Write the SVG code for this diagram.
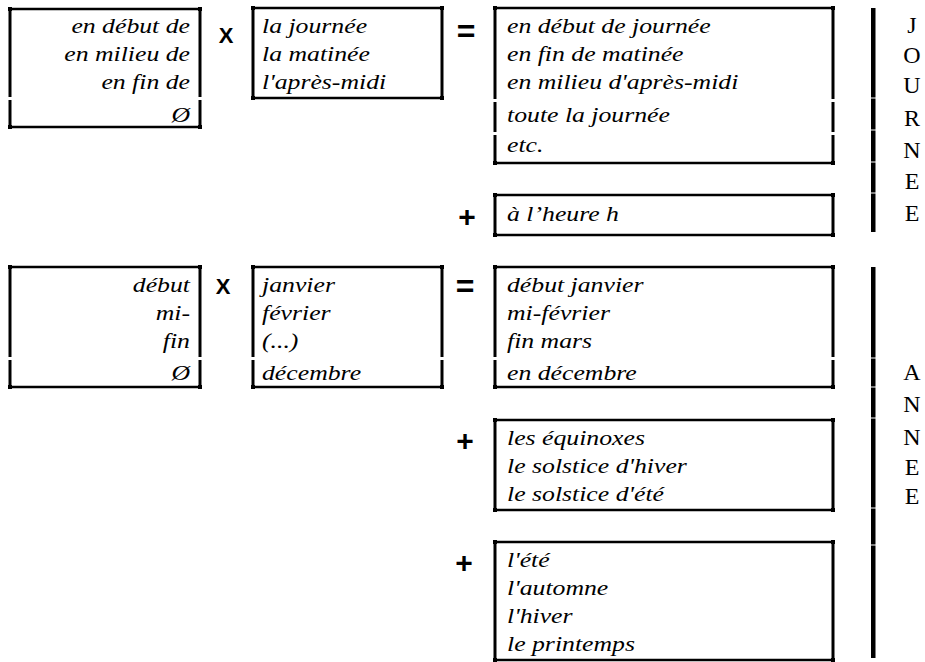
<svg xmlns="http://www.w3.org/2000/svg" width="925" height="662" viewBox="0 0 925 662">
<style>
.t{font-family:"Liberation Serif","Times New Roman",serif;font-style:italic;font-size:22px;fill:#000}
.r{text-anchor:end}
.op{font-family:"Liberation Sans",Arial,sans-serif;font-weight:bold;fill:#000;text-anchor:middle}
.v{stroke:#000;stroke-width:3}
.h{stroke:#000;stroke-width:2.5}
.bar{fill:#000}
.L{font-family:"Liberation Serif","Times New Roman",serif;font-size:24px;fill:#000;text-anchor:middle}
</style>
<defs>
<rect id="dot" x="-2" y="-2" width="4" height="4" fill="#000"/>
</defs>
<g id="box1">
<line class="h" x1="10" y1="9" x2="200" y2="9"/><line class="h" x1="10" y1="127" x2="200" y2="127"/>
<line class="v" x1="10" y1="11" x2="10" y2="97"/><line class="v" x1="10" y1="100" x2="10" y2="125"/>
<line class="v" x1="200" y1="11" x2="200" y2="97"/><line class="v" x1="200" y1="100" x2="200" y2="125"/>
<use href="#dot" x="10" y="9"/><use href="#dot" x="200" y="9"/><use href="#dot" x="10" y="127"/><use href="#dot" x="200" y="127"/>
<text class="t r" transform="translate(190,33) scale(1.17,1)">en début de</text>
<text class="t r" transform="translate(190,61) scale(1.17,1)">en milieu de</text>
<text class="t r" transform="translate(190,89) scale(1.17,1)">en fin de</text>
<text class="t r" transform="translate(190,122) scale(1.17,1)">Ø</text>
</g>
<g id="box2">
<line class="h" x1="253" y1="8" x2="442" y2="8"/><line class="h" x1="253" y1="98" x2="442" y2="98"/>
<line class="v" x1="253" y1="10" x2="253" y2="96"/><line class="v" x1="442" y1="10" x2="442" y2="96"/>
<use href="#dot" x="253" y="8"/><use href="#dot" x="442" y="8"/><use href="#dot" x="253" y="98"/><use href="#dot" x="442" y="98"/>
<text class="t" transform="translate(262,33) scale(1.17,1)">la journée</text>
<text class="t" transform="translate(262,61) scale(1.17,1)">la matinée</text>
<text class="t" transform="translate(262,89) scale(1.17,1)">l'après-midi</text>
</g>
<g id="box3">
<line class="h" x1="495" y1="8" x2="833" y2="8"/><line class="h" x1="495" y1="163" x2="833" y2="163"/>
<line class="v" x1="495" y1="10" x2="495" y2="99"/><line class="v" x1="495" y1="102" x2="495" y2="132"/><line class="v" x1="495" y1="135" x2="495" y2="161"/>
<line class="v" x1="833" y1="10" x2="833" y2="99"/><line class="v" x1="833" y1="102" x2="833" y2="132"/><line class="v" x1="833" y1="135" x2="833" y2="161"/>
<use href="#dot" x="495" y="8"/><use href="#dot" x="833" y="8"/><use href="#dot" x="495" y="163"/><use href="#dot" x="833" y="163"/>
<text class="t" transform="translate(507,33) scale(1.17,1)">en début de journée</text>
<text class="t" transform="translate(507,61) scale(1.17,1)">en fin de matinée</text>
<text class="t" transform="translate(507,89) scale(1.17,1)">en milieu d'après-midi</text>
<text class="t" transform="translate(507,122) scale(1.17,1)">toute la journée</text>
<text class="t" transform="translate(507,152) scale(1.17,1)">etc.</text>
</g>
<g id="box4">
<line class="h" x1="495" y1="195" x2="833" y2="195"/><line class="h" x1="495" y1="235" x2="833" y2="235"/>
<line class="v" x1="495" y1="197" x2="495" y2="233"/><line class="v" x1="833" y1="197" x2="833" y2="233"/>
<use href="#dot" x="495" y="195"/><use href="#dot" x="833" y="195"/><use href="#dot" x="495" y="235"/><use href="#dot" x="833" y="235"/>
<text class="t" transform="translate(507,221) scale(1.17,1)">à l’heure h</text>
</g>
<g id="box5">
<line class="h" x1="10" y1="267" x2="200" y2="267"/><line class="h" x1="10" y1="387" x2="200" y2="387"/>
<line class="v" x1="10" y1="269" x2="10" y2="357"/><line class="v" x1="10" y1="360" x2="10" y2="385"/>
<line class="v" x1="200" y1="269" x2="200" y2="357"/><line class="v" x1="200" y1="360" x2="200" y2="385"/>
<use href="#dot" x="10" y="267"/><use href="#dot" x="200" y="267"/><use href="#dot" x="10" y="387"/><use href="#dot" x="200" y="387"/>
<text class="t r" transform="translate(190,292) scale(1.17,1)">début</text>
<text class="t r" transform="translate(190,320) scale(1.17,1)">mi-</text>
<text class="t r" transform="translate(190,348) scale(1.17,1)">fin</text>
<text class="t r" transform="translate(190,380) scale(1.17,1)">Ø</text>
</g>
<g id="box6">
<line class="h" x1="253" y1="267" x2="442" y2="267"/><line class="h" x1="253" y1="387" x2="442" y2="387"/>
<line class="v" x1="253" y1="269" x2="253" y2="357"/><line class="v" x1="253" y1="360" x2="253" y2="385"/>
<line class="v" x1="442" y1="269" x2="442" y2="357"/><line class="v" x1="442" y1="360" x2="442" y2="385"/>
<use href="#dot" x="253" y="267"/><use href="#dot" x="442" y="267"/><use href="#dot" x="253" y="387"/><use href="#dot" x="442" y="387"/>
<text class="t" transform="translate(262,292) scale(1.17,1)">janvier</text>
<text class="t" transform="translate(262,320) scale(1.17,1)">février</text>
<text class="t" transform="translate(262,348) scale(1.17,1)">(...)</text>
<text class="t" transform="translate(262,380) scale(1.17,1)">décembre</text>
</g>
<g id="box7">
<line class="h" x1="495" y1="267" x2="833" y2="267"/><line class="h" x1="495" y1="387" x2="833" y2="387"/>
<line class="v" x1="495" y1="269" x2="495" y2="357"/><line class="v" x1="495" y1="360" x2="495" y2="385"/>
<line class="v" x1="833" y1="269" x2="833" y2="357"/><line class="v" x1="833" y1="360" x2="833" y2="385"/>
<use href="#dot" x="495" y="267"/><use href="#dot" x="833" y="267"/><use href="#dot" x="495" y="387"/><use href="#dot" x="833" y="387"/>
<text class="t" transform="translate(507,292) scale(1.17,1)">début janvier</text>
<text class="t" transform="translate(507,320) scale(1.17,1)">mi-février</text>
<text class="t" transform="translate(507,348) scale(1.17,1)">fin mars</text>
<text class="t" transform="translate(507,380) scale(1.17,1)">en décembre</text>
</g>
<g id="box8">
<line class="h" x1="495" y1="420" x2="833" y2="420"/><line class="h" x1="495" y1="510" x2="833" y2="510"/>
<line class="v" x1="495" y1="422" x2="495" y2="508"/><line class="v" x1="833" y1="422" x2="833" y2="508"/>
<use href="#dot" x="495" y="420"/><use href="#dot" x="833" y="420"/><use href="#dot" x="495" y="510"/><use href="#dot" x="833" y="510"/>
<text class="t" transform="translate(507,445) scale(1.17,1)">les équinoxes</text>
<text class="t" transform="translate(507,473) scale(1.17,1)">le solstice d'hiver</text>
<text class="t" transform="translate(507,501) scale(1.17,1)">le solstice d'été</text>
</g>
<g id="box9">
<line class="h" x1="495" y1="542" x2="833" y2="542"/><line class="h" x1="495" y1="660" x2="833" y2="660"/>
<line class="v" x1="495" y1="544" x2="495" y2="658"/><line class="v" x1="833" y1="544" x2="833" y2="658"/>
<use href="#dot" x="495" y="542"/><use href="#dot" x="833" y="542"/><use href="#dot" x="495" y="660"/><use href="#dot" x="833" y="660"/>
<text class="t" transform="translate(507,567) scale(1.17,1)">l'été</text>
<text class="t" transform="translate(507,595) scale(1.17,1)">l'automne</text>
<text class="t" transform="translate(507,623) scale(1.17,1)">l'hiver</text>
<text class="t" transform="translate(507,651) scale(1.17,1)">le printemps</text>
</g>
<g id="operators">
<text class="op" x="226" y="43" font-size="22">X</text>
<text class="op" x="466" y="42" font-size="32">=</text>
<text class="op" x="467" y="227" font-size="30">+</text>
<text class="op" x="223" y="294" font-size="22">X</text>
<text class="op" x="465" y="297" font-size="32">=</text>
<text class="op" x="465" y="451" font-size="30">+</text>
<text class="op" x="464" y="573" font-size="30">+</text>
</g>
<g id="journee">
<rect class="bar" x="871" y="8" width="4.5" height="89.5"/>
<rect class="bar" x="871" y="98.5" width="4.5" height="31"/>
<rect class="bar" x="871" y="130.5" width="4.5" height="31"/>
<rect class="bar" x="871" y="162.5" width="4.5" height="30"/>
<rect class="bar" x="871" y="193.5" width="4.5" height="38.5"/>
<text class="L" x="912" y="33">J</text>
<text class="L" x="912" y="63">O</text>
<text class="L" x="912" y="93">U</text>
<text class="L" x="912" y="126">R</text>
<text class="L" x="912" y="158">N</text>
<text class="L" x="912" y="189">E</text>
<text class="L" x="912" y="221">E</text>
</g>
<g id="annee">
<rect class="bar" x="871" y="267" width="4.5" height="90.5"/>
<rect class="bar" x="871" y="358.5" width="4.5" height="28"/>
<rect class="bar" x="871" y="387.5" width="4.5" height="30"/>
<rect class="bar" x="871" y="418.5" width="4.5" height="89"/>
<rect class="bar" x="871" y="508.5" width="4.5" height="36"/>
<rect class="bar" x="871" y="545.5" width="4.5" height="112.5"/>
<text class="L" x="912" y="380">A</text>
<text class="L" x="912" y="412">N</text>
<text class="L" x="912" y="445">N</text>
<text class="L" x="912" y="475">E</text>
<text class="L" x="912" y="504">E</text>
</g>
</svg>
